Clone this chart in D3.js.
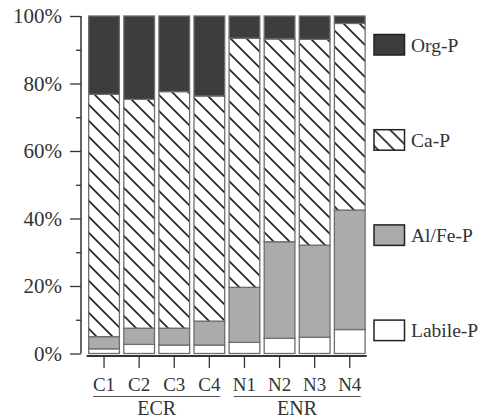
<!DOCTYPE html>
<html><head><meta charset="utf-8">
<script src="https://cdn.jsdelivr.net/npm/d3@7"></script>
<style>
body{margin:0;background:#fff;}
text{font-family:"Liberation Serif","Times New Roman",serif;fill:#333;}
</style></head>
<body><svg id="c" width="482" height="420"></svg>
<script>
const categories = ["C1","C2","C3","C4","N1","N2","N3","N4"];
const groups = [{name:"ECR", members:["C1","C2","C3","C4"]},{name:"ENR", members:["N1","N2","N3","N4"]}];
const seriesNames = ["Labile-P","Al/Fe-P","Ca-P","Org-P"];
const labileP = [1.4, 2.7, 2.5, 2.5, 3.3, 4.5, 4.8, 7.1];
const alFeP   = [3.6, 4.8, 5.0, 7.1, 16.3, 28.6, 27.3, 35.4];
const caP     = [71.8, 67.8, 70.1, 66.7, 73.8, 60.1, 61.0, 55.3];
const orgP    = [23.2, 24.7, 22.4, 23.7, 6.6, 6.8, 6.9, 2.2];
const majorTicks = [0,20,40,60,80,100];
const minorTicks = [10,30,50,70,90];

const svg = d3.select("#c");
const defs = svg.append("defs");
const hatch = defs.append("pattern").attr("id","hatch").attr("patternUnits","userSpaceOnUse")
  .attr("width",16).attr("height",16);
hatch.append("rect").attr("width",16).attr("height",16).attr("fill","#fff");
hatch.append("path").attr("d","M-4,-4L20,20M-4,12L4,20M12,-4L20,4")
  .attr("stroke","#222").attr("stroke-width",1.6);

const fills = {"Labile-P":"#ffffff","Al/Fe-P":"#ababab","Ca-P":"url(#hatch)","Org-P":"#3d3d3d"};
const seriesData = {"Labile-P":labileP,"Al/Fe-P":alFeP,"Ca-P":caP,"Org-P":orgP};

const rows = categories.map((c,i)=>{const r={cat:c}; seriesNames.forEach(s=>r[s]=seriesData[s][i]); return r;});
const stack = d3.stack().keys(seriesNames)(rows);

const x = d3.scaleBand().domain(categories).range([84.3,369.5]).paddingInner(0.125).paddingOuter(0.125);
const y = d3.scaleLinear().domain([0,100]).range([353.5,16]);

// bars
stack.forEach(layer=>{
  svg.append("g").selectAll("rect").data(layer).join("rect")
    .attr("x",d=>x(d.data.cat)).attr("width",x.bandwidth())
    .attr("y",d=>y(d[1])).attr("height",d=>y(d[0])-y(d[1]))
    .attr("fill",fills[layer.key]).attr("stroke","#6e6e6e").attr("stroke-width",1.3);
});

// y axis
const yAxis = svg.append("g").attr("transform","translate(81,0)")
  .call(d3.axisLeft(y).tickValues(majorTicks).tickSize(11).tickPadding(8).tickFormat(d=>d+"%"));
yAxis.select(".domain").attr("d","M0,"+y(100)+"V"+y(0)).attr("stroke","#333").attr("stroke-width",1.5);
yAxis.selectAll(".tick line").attr("stroke","#333").attr("stroke-width",1.3);
yAxis.selectAll(".tick text").style("font-size","21px").attr("font-family",null).attr("fill","#333");
const yMinor = svg.append("g").attr("transform","translate(81,0)")
  .call(d3.axisLeft(y).tickValues(minorTicks).tickSize(5).tickFormat(""));
yMinor.select(".domain").remove();
yMinor.selectAll(".tick line").attr("stroke","#333").attr("stroke-width",1.3);

// x axis
const xAxis = svg.append("g").attr("transform","translate(0,356)")
  .call(d3.axisBottom(x).tickSize(12).tickPadding(10));
xAxis.select(".domain").attr("d","M86.7,0H366.7").attr("stroke","#333").attr("stroke-width",2);
xAxis.selectAll(".tick line").attr("stroke","#333").attr("stroke-width",1.3);
xAxis.selectAll(".tick text").style("font-size","19px").attr("font-family",null).attr("fill","#333")
  .attr("dy",null).attr("y",34.5);

// groups
groups.forEach(g=>{
  const x0 = x(g.members[0]) + 4.5, x1 = x(g.members[g.members.length-1]) + x.bandwidth() - 4.5;
  svg.append("line").attr("x1",x0).attr("x2",x1).attr("y1",396.5).attr("y2",396.5)
    .attr("stroke","#555").attr("stroke-width",1);
  svg.append("text").attr("x",(x0+x1)/2).attr("y",415).attr("text-anchor","middle")
    .style("font-size","20px").text(g.name);
});

// legend
const legendOrder = ["Org-P","Ca-P","Al/Fe-P","Labile-P"];
const lg = svg.append("g").selectAll("g").data(legendOrder).join("g")
  .attr("transform",(d,i)=>`translate(374,${34.5+i*95.2})`);
lg.append("rect").attr("width",30.5).attr("height",20.5).attr("fill",d=>fills[d])
  .attr("stroke","#222").attr("stroke-width",1.5);
lg.append("text").attr("x",37).attr("y",10.5).attr("dy","0.35em").style("font-size","19.5px").text(d=>d);
</script></body></html>
